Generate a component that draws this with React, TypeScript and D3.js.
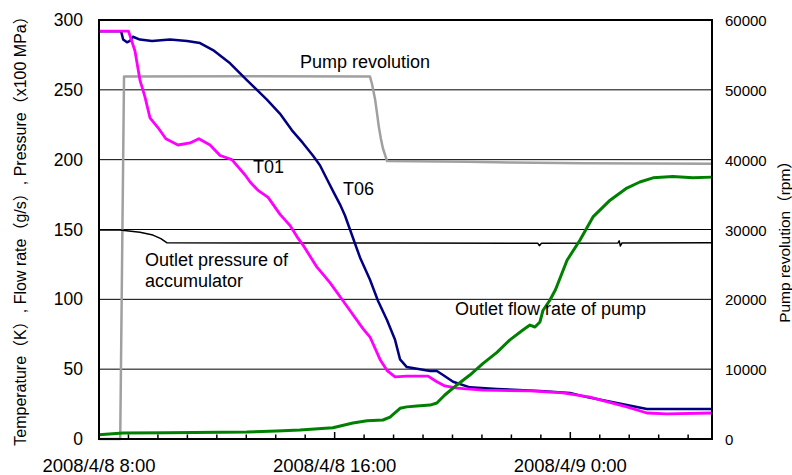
import React from "react";
import * as d3 from "d3";

// time in hours after 2008/4/8 8:00
const T01: [number, number][] = [
  [0, 292], [1.0, 292], [1.22, 278], [1.39, 257], [1.56, 245], [1.73, 230], [2.0, 223],
  [2.27, 215], [2.68, 210.5], [3.09, 212], [3.39, 215], [3.77, 210.5], [4.11, 203],
  [4.51, 200], [4.96, 189], [5.13, 184], [5.4, 178], [5.74, 173], [6.14, 161], [6.48, 153],
  [6.75, 144], [6.92, 139], [7.4, 123], [7.84, 112], [8.35, 97], [8.96, 79], [9.2, 73],
  [9.54, 57], [9.78, 49], [10.05, 44.5], [10.45, 45], [11.17, 45], [11.47, 41],
  [11.74, 38], [12.15, 36.5], [13.03, 35], [14.63, 34.4], [15.75, 33], [16.67, 30],
  [17.01, 28], [17.92, 23], [18.6, 18.6], [19.28, 18], [20.81, 18.6],
];

const T06: [number, number][] = [
  [0, 292], [0.75, 292], [0.82, 286], [0.95, 284], [1.05, 285], [1.15, 288], [1.39, 286],
  [1.8, 285], [2.41, 286], [2.99, 285], [3.43, 283.5], [3.87, 278.5], [4.45, 269],
  [5.02, 257], [5.7, 243], [6.14, 233], [6.55, 221], [6.92, 212], [7.26, 203], [7.5, 196],
  [7.74, 186], [7.98, 176], [8.18, 168], [8.35, 160], [8.52, 150], [8.69, 140],
  [8.86, 130], [9.2, 114], [9.47, 99], [9.78, 85], [10.05, 71], [10.22, 57],
  [10.45, 51.5], [11.24, 48.7], [11.47, 48.7], [11.68, 45.8], [12.02, 41], [12.59, 37],
  [13.51, 35.8], [14.97, 34.4], [15.99, 33], [16.56, 30], [17.58, 25.8], [18.6, 21.5],
  [20.81, 21.5],
];

const PUMP_RPM: [number, number][] = [
  [0, 0], [0.72, 0], [0.85, 51900], [5.0, 51950], [9.2, 51900], [9.27, 50800],
  [9.37, 48700], [9.44, 46600], [9.5, 44700], [9.57, 43000], [9.64, 41600],
  [9.78, 39800], [12.5, 39700], [14.0, 39600], [16.5, 39500], [20.81, 39400],
];

const OUTLET_PRESSURE: [number, number][] = [
  [0, 149.6], [0.71, 149.6], [1.39, 148], [1.83, 146], [2.1, 143.5], [2.31, 140.5],
  [6.0, 140.3], [10.0, 140.3], [14.9, 140.1], [14.95, 138.4], [15.02, 140.2],
  [17.62, 140.4], [17.66, 141.9], [17.7, 138.2], [17.75, 140.3], [20.81, 140.6],
];

const OUTLET_FLOW: [number, number][] = [
  [0, 3], [0.81, 4.3], [2.31, 4.5], [5.02, 5], [6.04, 5.7], [6.82, 6.4], [7.94, 8],
  [8.62, 11.4], [9.1, 13], [9.64, 13.6], [9.88, 15.7], [10.22, 22], [10.45, 23],
  [10.79, 23.6], [11.24, 24.3], [11.47, 25.8], [11.74, 31.5], [12.15, 38.7],
  [12.59, 45.8], [13.03, 54], [13.51, 62], [13.95, 71], [14.39, 78], [14.63, 81.6],
  [14.8, 80.2], [14.97, 83.8], [15.07, 92], [15.31, 99.5], [15.5, 107],
  [15.89, 128], [16.33, 142.5], [16.77, 159], [17.35, 171], [17.92, 179.7],
  [18.36, 184], [18.81, 187], [19.48, 188], [20.16, 187], [20.81, 187.5],
];

const LEFT_TICKS = [0, 50, 100, 150, 200, 250, 300];
const RIGHT_TICKS = [0, 10000, 20000, 30000, 40000, 50000, 60000];
const X_MAJOR_HOURS = [0, 8, 16];
const X_LABELS = ["2008/4/8 8:00", "2008/4/8 16:00", "2008/4/9 0:00"];
const X_END_HOURS = 20.81;

const LEFT_TITLE = "Temperature（K）, Flow rate（g/s）, Pressure（x100 MPa）";
const RIGHT_TITLE = "Pump revolution（rpm）";

const FONT = "'Liberation Sans', Arial, 'Noto Sans CJK JP', sans-serif";

export default function App() {
  const W = 792, H = 475;
  const L = 99, R = 712, T = 20, B = 439;
  const x = d3.scaleLinear().domain([0, X_END_HOURS]).range([L, R]);
  const yL = d3.scaleLinear().domain([0, 300]).range([B, T]);
  const yR = d3.scaleLinear().domain([0, 60000]).range([B, T]);
  const lineL = d3.line<[number, number]>().x((d) => x(d[0])).y((d) => yL(d[1]));
  const lineR = d3.line<[number, number]>().x((d) => x(d[0])).y((d) => yR(d[1]));
  const hours = d3.range(1, Math.floor(X_END_HOURS) + 1);

  return (
    <svg width={W} height={H} style={{ position: "absolute", left: 0, top: 0, background: "#fff" }} fontFamily={FONT}>
      <rect x={0} y={0} width={W} height={H} fill="#fff" />
      {/* gridlines */}
      {LEFT_TICKS.filter((t) => t > 0 && t < 300).map((t) => (
        <line key={t} x1={L} x2={R} y1={yL(t)} y2={yL(t)} stroke="#000" strokeWidth={1} />
      ))}
      {/* series */}
      <path d={lineR(PUMP_RPM) || ""} fill="none" stroke="#a0a0a0" strokeWidth={2.5} strokeLinejoin="round" />
      <path d={lineL(OUTLET_PRESSURE) || ""} fill="none" stroke="#000" strokeWidth={1.5} strokeLinejoin="round" />
      <path d={lineL(T06) || ""} fill="none" stroke="#000080" strokeWidth={2.5} strokeLinejoin="round" />
      <path d={lineL(T01) || ""} fill="none" stroke="#ff00ff" strokeWidth={2.8} strokeLinejoin="round" />
      <path d={lineL(OUTLET_FLOW) || ""} fill="none" stroke="#008000" strokeWidth={3} strokeLinejoin="round" />
      {/* frame */}
      <rect x={L} y={T} width={R - L} height={B - T} fill="none" stroke="#000" strokeWidth={2} />
      {/* x ticks */}
      {hours.map((h) => (
        <line key={h} x1={x(h)} x2={x(h)} y1={B} y2={B - (h % 8 === 0 ? 7 : 4.5)} stroke="#000" strokeWidth={1.5} />
      ))}
      {/* left ticks */}
      {LEFT_TICKS.map((t) => (
        <text key={t} x={83} y={yL(t)} dy="0.35em" textAnchor="end" fontSize={17.5} fill="#000">{t}</text>
      ))}
      {RIGHT_TICKS.map((t) => (
        <text key={t} x={725} y={yR(t)} dy="0.4em" textAnchor="start" fontSize={15} fill="#000">{t}</text>
      ))}
      {X_MAJOR_HOURS.map((h, i) => (
        <text key={h} x={x(h)} y={472} textAnchor="middle" fontSize={18.5} fill="#000">{X_LABELS[i]}</text>
      ))}
      {/* axis titles */}
      <text transform={`translate(26,227) rotate(-90)`} textAnchor="middle" fontSize={16} fill="#000">{LEFT_TITLE}</text>
      <text transform={`translate(790,238) rotate(-90)`} textAnchor="middle" fontSize={15.5} fill="#000">{RIGHT_TITLE}</text>
      {/* annotations */}
      <text x={300} y={68} fontSize={18} fill="#000">Pump revolution</text>
      <text x={253} y={173} fontSize={18} fill="#000">T01</text>
      <text x={343} y={195} fontSize={18} fill="#000">T06</text>
      <text x={145} y={266} fontSize={18} fill="#000">Outlet pressure of</text>
      <text x={145} y={287} fontSize={18} fill="#000">accumulator</text>
      <text x={455} y={315} fontSize={18} fill="#000">Outlet flow rate of pump</text>
    </svg>
  );
}
